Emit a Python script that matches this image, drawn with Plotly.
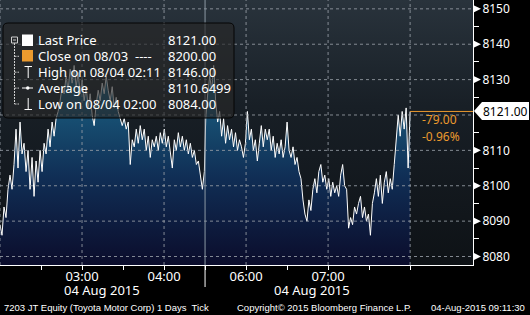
import numpy as np
import plotly.graph_objects as go

# ---------------- data ----------------
session1_prices = [8089,8086,8094,8091,8099, 8103,8099,8106,8116,8105,8118,8109,8112,
    8104,8110,8099,8108,8097,8107,8101,8110,8104,8112, 8109,8116,8111,8118,8114,8119,8121,8124,
    8128,8126,8131,8127,8133,8129,8134,8128,8132, 8126,8130,8124,8128,8122,8126,8120,8117,8123,8127,
    8124,8129,8126,8131,8127,8124,8128,8122,8125,8121, 8119,8117,8119,8116,8118,8106,8113,8111,8116,
    8112,8117,8113,8116,8110,8114, 8108,8113,8111,8114,8110,8115,8112,8116,8111,8114,8109,8105,8113,
    8110,8115,8111,8114,8110,8113,8109,8112, 8108,8110,8106,8107,8103,8099,8104]
session2_prices = [8119,8126,8131,8127,8134,8124,8118,8121,8114,8119,8112,8117,
    8113,8116,8111,8115,8110,8113,8111,8108,8112,8121,8113, 8116,8110,8113,8107,8112,8117,8111,8116,8113,
    8116,8110,8114,8108,8112,8109,8113,8108,8111,8118,8110, 8108,8111,8106,8108,8104,8102,8096,8092,8090,8096,
    8093,8099,8102,8098,8104,8106,8101,8103,8099,8102,8097,8101,8098,8100,
    8097,8103,8106,8100,8099,8088,8091,8089,8094,8092,8095,8097,8091,
    8094,8090,8092,8086,8095,8098,8102,8097,8103,8095,8101,8104,8098,8102,8099,
    8106,8112,8120,8114,8121,8116,8122,8105,8121]
# trading minutes since 02:00 (lunch break removed)
session1_minutes = np.linspace(0, 149.5, len(session1_prices))
session2_minutes = np.linspace(150.5, 300, len(session2_prices))

tick_minutes = [30, 60, 90, 120, 150, 180, 210, 240, 270, 300]
tick_labels = ["", "03:00", "", "04:00", "", "06:00", "", "07:00", "", ""]
grid_minutes = [0, 60, 120, 180, 240, 300]
break_minute = 150
y_ticks = [8080, 8090, 8100, 8110, 8120, 8130, 8140, 8150]
y_minor = [8085, 8095, 8105, 8115, 8125, 8135, 8145]
x_range = [0, 346]
y_range = [8077.6, 8152.5]

last_price = 8121.00
legend_rows = [("Last Price", "8121.00"), ("Close on 08/03  ----", "8200.00"),
               ("High on 08/04 02:11", "8146.00"), ("Average", "8110.6499"),
               ("Low on 08/04 02:00", "8084.00")]
change_text = ["-79.00", "-0.96%"]

# ---------------- figure ----------------
W, H = 530, 315
PW, PH = 473, 265
def px(x): return x / PW
def py(y): return 1 - y / PH

FONT = "Noto Sans"
ORANGE = "#eb9a2e"

x_all = np.concatenate([session1_minutes, session2_minutes])
y_all = session1_prices + session2_prices

# y tick labels: the one under the last-price tag is covered by it
y_ticktext = ["" if abs(v - last_price) < 5 else str(v) for v in y_ticks]

fig = go.Figure()
# plot background gradient
fig.add_trace(go.Scatter(x=[x_range[0], x_range[1], x_range[1], x_range[0], x_range[0]],
                         y=[y_range[0], y_range[0], y_range[1], y_range[1], y_range[0]],
                         mode="lines", line=dict(width=0), fill="toself",
                         fillgradient=dict(type="vertical",
                                           colorscale=[[0, "#0e1216"], [0.6, "#181f26"], [1, "#29333c"]],
                                           start=y_range[0], stop=y_range[1]),
                         hoverinfo="skip", showlegend=False))
fig.add_trace(go.Scatter(x=x_all, y=y_all, mode="lines",
                         line=dict(color="white", width=1), fill="tozeroy",
                         fillgradient=dict(type="vertical",
                                           colorscale=[[0, "#0b0d2c"], [0.45, "#102e55"], [1, "#1c6787"]],
                                           start=8078, stop=8132),
                         hoverinfo="skip", showlegend=False))

shapes = []
grid = dict(color="rgba(150,158,166,0.85)", width=1, dash="3px,3px")
for v in y_ticks:
    shapes.append(dict(type="line", xref="paper", yref="y", x0=0, x1=1, y0=v, y1=v, line=grid, layer="above"))
for m in grid_minutes:
    shapes.append(dict(type="line", xref="x", yref="paper", x0=m, x1=m, y0=0, y1=1, line=grid, layer="above"))
# session break
shapes.append(dict(type="line", xref="x", yref="paper", x0=break_minute, x1=break_minute, y0=0, y1=1,
                   line=dict(color="#8d99a4", width=1), layer="above"))
shapes.append(dict(type="line", xref="x", yref="paper", x0=break_minute, x1=break_minute, y0=0, y1=-22/PH,
                   line=dict(color="white", width=1), layer="above"))
# last price line
shapes.append(dict(type="line", xref="x", yref="y", x0=x_all[-1], x1=x_range[1], y0=last_price, y1=last_price,
                   line=dict(color=ORANGE, width=1), layer="above"))
# y-axis triangles
for v, t in zip(y_ticks, y_ticktext):
    if not t:
        continue
    shapes.append(dict(type="path", xref="paper", yref="y",
                       path=f"M 1,{v+1.1} L {1+8/PW},{v} L 1,{v-1.1} Z",
                       fillcolor="white", line=dict(width=0), layer="above"))
# last price tag
shapes.append(dict(type="path", xref="paper", yref="paper",
                   path=f"M {px(474)},{py(111)} L {px(482)},{py(102)} L {px(529)},{py(102)} L {px(529)},{py(120)} L {px(482)},{py(120)} Z",
                   fillcolor="white", line=dict(width=0), layer="above"))
# legend box (rounded)
x0b, x1b, y0b, y1b, r = 3, 234, 23, 118, 5
path = (f"M {px(x0b+r)},{py(y0b)} L {px(x1b-r)},{py(y0b)} Q {px(x1b)},{py(y0b)} {px(x1b)},{py(y0b+r)} "
        f"L {px(x1b)},{py(y1b-r)} Q {px(x1b)},{py(y1b)} {px(x1b-r)},{py(y1b)} "
        f"L {px(x0b+r)},{py(y1b)} Q {px(x0b)},{py(y1b)} {px(x0b)},{py(y1b-r)} "
        f"L {px(x0b)},{py(y0b+r)} Q {px(x0b)},{py(y0b)} {px(x0b+r)},{py(y0b)} Z")
shapes.append(dict(type="path", xref="paper", yref="paper", path=path,
                   fillcolor="rgba(40,40,40,0.66)", line=dict(color="#050505", width=1), layer="above"))

row_y = [40.5, 56.3, 72.2, 88.1, 104]
def pline(xa, ya, xb, yb, color="white", width=1, dash=None):
    d = dict(color=color, width=width)
    if dash: d["dash"] = dash
    shapes.append(dict(type="line", xref="paper", yref="paper", x0=px(xa), y0=py(ya), x1=px(xb), y1=py(yb),
                       line=d, layer="above"))
# tree
shapes.append(dict(type="rect", xref="paper", yref="paper", x0=px(11.5), x1=px(17.5), y0=py(37), y1=py(43),
                   line=dict(color="#cfcfcf", width=1), fillcolor="rgba(0,0,0,0)", layer="above"))
pline(13, 40, 16, 40, "#cfcfcf")
pline(14.5, 43, 14.5, row_y[4], "#cfcfcf", 1, "2px,1px")
for yy in row_y[1:]:
    pline(14.5, yy, 19, yy, "#cfcfcf", 1, "2px,1px")
# icons
shapes.append(dict(type="rect", xref="paper", yref="paper", x0=px(22), x1=px(33), y0=py(34.5), y1=py(46),
                   fillcolor="white", line=dict(width=0), layer="above"))
shapes.append(dict(type="rect", xref="paper", yref="paper", x0=px(22), x1=px(33), y0=py(50), y1=py(61.5),
                   fillcolor=ORANGE, line=dict(width=0), layer="above"))
pline(24.5, 66.5, 32, 66.5); pline(28.2, 66.5, 28.2, 78)
pline(22, 88, 33, 88)
shapes.append(dict(type="circle", xref="paper", yref="paper", x0=px(26), x1=px(29.5), y0=py(86.3), y1=py(89.8),
                   fillcolor="white", line=dict(width=0), layer="above"))
pline(28.2, 98, 28.2, 109.5); pline(24.5, 109.5, 32, 109.5)

ann = []
def text(x, y, s, size=13, color="white", anchor="left", family=FONT):
    ann.append(dict(xref="paper", yref="paper", x=px(x), y=py(y), text=s, showarrow=False,
                    xanchor=anchor, yanchor="middle", font=dict(family=family, size=size, color=color)))
for (lab, val), yy in zip(legend_rows, row_y):
    text(36, yy, lab, 13)
    text(166, yy, val, 13)
text(505, 111, f"{last_price:.2f}", 12, "black", "center")
text(420, 119, change_text[0], 12, ORANGE)
text(420, 136, change_text[1], 12, ORANGE)
text(102, 290, "04 Aug 2015", 13, "white", "center")
text(312, 290, "04 Aug 2015", 13, "white", "center")
text(2, 307, "7203 JT Equity (Toyota Motor Corp) 1 Days  Tick", 9.5, "white", "left", "Liberation Sans")
text(235, 307, "Copyright© 2015 Bloomberg Finance L.P.", 9.5, "white", "left", "Liberation Sans")
text(527, 307, "04-Aug-2015 09:11:30", 9.5, "white", "right", "Liberation Sans")

fig.update_layout(
    width=W, height=H, margin=dict(l=0, r=W - PW, t=0, b=H - PH),
    paper_bgcolor="black", plot_bgcolor="#151b21", showlegend=False,
    shapes=shapes, annotations=ann,
    xaxis=dict(range=x_range, showgrid=False, zeroline=False, showline=True, linecolor="white", linewidth=1,
               ticks="outside", ticklen=4, tickcolor="white", tickvals=tick_minutes, ticktext=tick_labels,
               ticklabelstandoff=-5,
               tickfont=dict(family=FONT, size=13, color="white"), fixedrange=True),
    yaxis=dict(range=y_range, side="right", showgrid=False, zeroline=False, showline=True, linecolor="white",
               linewidth=1, ticks="", tickvals=y_ticks, ticktext=y_ticktext, ticklabelstandoff=6,
               tickfont=dict(family=FONT, size=12, color="white"),
               minor=dict(tickvals=y_minor, ticks="outside", ticklen=5, tickcolor="white")),
)
fig.write_html("out.html")
